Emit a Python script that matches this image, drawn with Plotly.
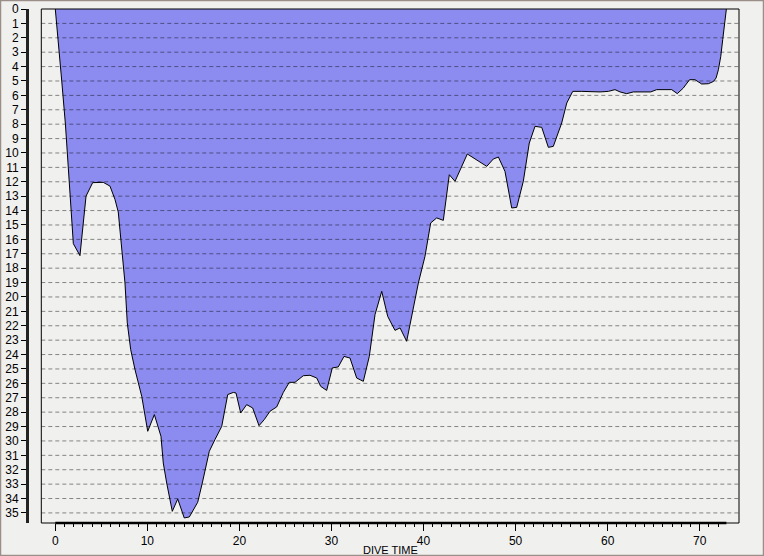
import plotly.graph_objects as go

# Dive profile (minutes, metres)
dive_time = [0, 0.3, 0.7, 1.1, 1.4, 1.96, 2.68, 3.34, 4.06, 5.21, 5.94, 6.49, 6.84,
             7.21, 7.57, 7.82, 8.04, 8.19, 8.66, 9.39, 10.04, 10.76, 11.48, 11.73,
             12.1, 12.71, 13.3, 14.01, 14.56, 15.47, 15.97, 16.73, 17.35, 18.08,
             18.73, 19.34, 19.63, 20.14, 20.79, 21.44, 22.13, 22.7, 23.32, 24.05,
             24.77, 25.42, 26.04, 26.94, 27.67, 28.4, 28.83, 29.48, 30.09, 30.74,
             31.36, 32.01, 32.74, 33.46, 34.11, 34.73, 35.46, 36.11, 36.9, 37.45,
             38.17, 38.78, 39.44, 40.16, 40.78, 41.43, 42.15, 42.8, 43.42, 44.76,
             45.78, 46.87, 47.58, 48.13, 48.85, 49.58, 50.12, 50.84, 51.49, 52.11,
             52.84, 53.56, 54.1, 55.01, 55.56, 56.21, 57.19, 59.18, 60.08, 60.8,
             61.35, 62.07, 62.79, 64.68, 65.33, 66.96, 67.57, 68.22, 68.9, 69.49,
             70.22, 70.94, 71.5, 71.78, 72.03, 72.29, 72.5, 72.68, 72.9]
depth = [0, 2, 5, 8, 11, 16.3, 17.13, 13.0, 12.06, 12.04, 12.3, 13.24, 14.1,
         16.9, 19.03, 21.8, 22.97, 23.66, 25.05, 26.9, 29.33, 28.17, 29.68, 31.53,
         32.92, 34.89, 34.03, 35.35, 35.28, 34.26, 32.92, 30.72, 29.9, 28.99,
         26.78, 26.63, 26.67, 28.06, 27.48, 27.71, 28.94, 28.52, 27.94, 27.64,
         26.63, 25.93, 25.93, 25.47, 25.44, 25.63, 26.21, 26.49, 24.93, 24.86,
         24.13, 24.24, 25.63, 25.86, 24.13, 21.23, 19.61, 21.35, 22.32, 22.15,
         23.08, 21.11, 19.03, 17.18, 14.86, 14.51, 14.68, 11.51, 11.97, 10.07,
         10.47, 10.93, 10.42, 10.28, 11.28, 13.82, 13.78, 11.97, 9.31, 8.15,
         8.22, 9.61, 9.54, 7.92, 6.53, 5.72, 5.72, 5.76, 5.72, 5.6,
         5.76, 5.88, 5.76, 5.76, 5.6, 5.6, 5.88, 5.49, 4.91, 4.91,
         5.21, 5.19, 5.03, 4.79, 4.22, 3.29, 2.13, 0.97, 0]

y_ticks = list(range(0, 36))
x_ticks = list(range(0, 71, 10))
x_minor = list(range(0, 73))
x_title = "DIVE TIME"

W, H = 764, 556
ML, MR, MT, MB = 27, 25, 9, 33
pw = W - ML - MR
ph = H - MT - MB
x_dom0 = (41.3 - ML) / pw

fig = go.Figure()
fig.add_trace(go.Scatter(
    x=dive_time, y=depth, mode="lines", fill="tozeroy",
    fillcolor="rgb(140,140,240)",
    line=dict(color="black", width=1),
    hoverinfo="skip", showlegend=False,
))

shapes = []
# dashed horizontal grid lines drawn above the fill
for v in y_ticks[1:]:
    shapes.append(dict(type="line", xref="paper", yref="y", x0=x_dom0, x1=1, y0=v, y1=v,
                       line=dict(color="rgba(0,0,0,0.45)", width=1, dash="4px,3px"),
                       layer="above"))
# plot frame
shapes.append(dict(type="rect", xref="paper", yref="paper", x0=x_dom0, x1=1, y0=0, y1=1,
                   line=dict(color="black", width=1), layer="above"))
# thick time axis line under the profile
shapes.append(dict(type="line", xref="x", yref="paper", x0=dive_time[0], x1=dive_time[-1],
                   y0=0, y1=0, line=dict(color="black", width=2.5), layer="above"))
# window border
shapes.append(dict(type="rect", xref="paper", yref="paper",
                   x0=(0.5 - ML) / pw, x1=(W - 0.5 - ML) / pw,
                   y0=1 - (H - 0.5 - MT) / ph, y1=1 - (0.5 - MT) / ph,
                   line=dict(color="#9a8f88", width=1.5), layer="above"))

font = dict(family="Liberation Sans, Arial, sans-serif", size=12, color="black")

fig.update_layout(
    width=W, height=H,
    margin=dict(l=ML, r=MR, t=MT, b=MB, autoexpand=False),
    paper_bgcolor="#f0f0ef",
    plot_bgcolor="#f0f0ef",
    font=font,
    shapes=shapes,
    xaxis=dict(
        domain=[x_dom0, 1], range=[-1.52, 74.27], automargin=False,
        tickmode="array", tickvals=x_ticks, ticktext=[str(v) for v in x_ticks],
        ticks="outside", ticklen=7, tickcolor="black", tickwidth=1,
        minor=dict(tickmode="array", tickvals=x_minor, ticks="outside", ticklen=3,
                   tickcolor="black", tickwidth=1),
        showgrid=False, zeroline=False, showline=False, fixedrange=True,
        tickfont=font,
    ),
    yaxis=dict(
        anchor="free", position=0, range=[35.7, 0], automargin=False,
        tickmode="array", tickvals=y_ticks, ticktext=[str(v) for v in y_ticks],
        ticks="outside", ticklen=5, tickcolor="black", tickwidth=1,
        showgrid=False, zeroline=False, showline=True, linecolor="#222", linewidth=3,
        fixedrange=True, tickfont=font,
    ),
    annotations=[dict(text=x_title, xref="paper", yref="paper",
                      x=(x_dom0 + 1) / 2, y=1 - (550 - MT) / ph,
                      xanchor="center", yanchor="middle", showarrow=False,
                      font=dict(family="Liberation Sans, Arial, sans-serif", size=11,
                                color="black"))],
)

fig.write_html("out.html",
               config={"displayModeBar": False, "staticPlot": True},
               post_script="document.body.style.margin='0';document.body.style.overflow='hidden';")
